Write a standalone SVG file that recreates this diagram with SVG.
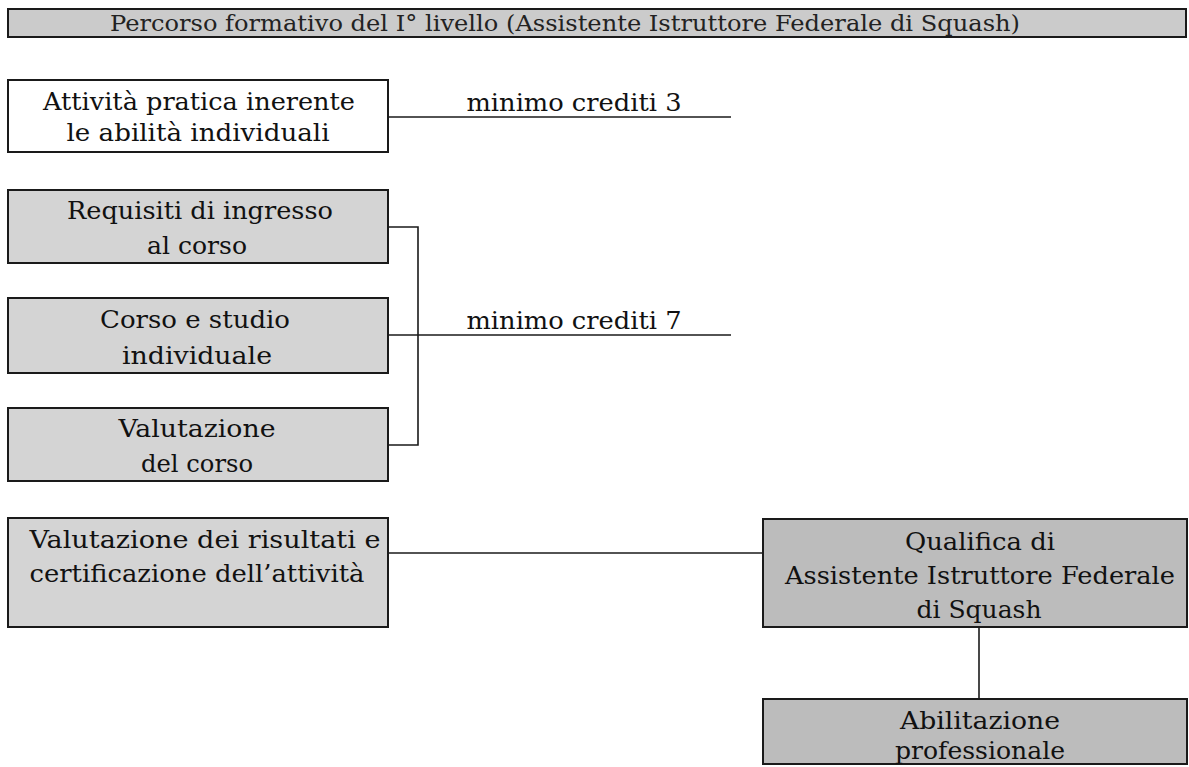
<svg xmlns="http://www.w3.org/2000/svg" width="1189" height="767" viewBox="0 0 1189 767">
<style>
.box{stroke:#1a1a1a;stroke-width:2}
.white{fill:#ffffff}
.light{fill:#d4d4d4}
.dark{fill:#bcbcbc}
.title{fill:#cbcbcb}
.t{font-family:"DejaVu Serif","Liberation Serif",serif;font-size:24px;fill:#111;text-anchor:middle}
.tt{font-family:"DejaVu Serif","Liberation Serif",serif;font-size:22px;fill:#222;text-anchor:middle}
.lbl{font-family:"DejaVu Serif","Liberation Serif",serif;font-size:24px;fill:#111;text-anchor:middle}
.conn{stroke:#1a1a1a;stroke-width:1.6;fill:none}
</style>
<rect width="1189" height="767" fill="#ffffff"/>
<g id="title">
<rect class="box title" x="8" y="9" width="1178" height="28"/>
<text class="tt" x="565" y="31" textLength="910" lengthAdjust="spacingAndGlyphs">Percorso formativo del I° livello (Assistente Istruttore Federale di Squash)</text>
</g>
<g id="connectors">
<line class="conn" x1="388" y1="117" x2="731" y2="117"/>
<polyline class="conn" points="388,227 418,227 418,445 388,445"/>
<line class="conn" x1="388" y1="335" x2="731" y2="335"/>
<line class="conn" x1="388" y1="553" x2="763" y2="553"/>
<line class="conn" x1="979" y1="622" x2="979" y2="699"/>
</g>
<g id="label-3">
<text class="lbl" x="574" y="111" textLength="215" lengthAdjust="spacingAndGlyphs">minimo crediti 3</text>
</g>
<g id="label-7">
<text class="lbl" x="574" y="329" textLength="215" lengthAdjust="spacingAndGlyphs">minimo crediti 7</text>
</g>
<g id="node-attivita">
<rect class="box white" x="8" y="80" width="380" height="72"/>
<text class="t" x="199" y="110" textLength="312" lengthAdjust="spacingAndGlyphs">Attività pratica inerente</text>
<text class="t" x="198" y="141" textLength="263" lengthAdjust="spacingAndGlyphs">le abilità individuali</text>
</g>
<g id="node-requisiti">
<rect class="box light" x="8" y="190" width="380" height="73"/>
<text class="t" x="200" y="219" textLength="266" lengthAdjust="spacingAndGlyphs">Requisiti di ingresso</text>
<text class="t" x="197" y="254" textLength="100" lengthAdjust="spacingAndGlyphs">al corso</text>
</g>
<g id="node-corso">
<rect class="box light" x="8" y="298" width="380" height="75"/>
<text class="t" x="195" y="328" textLength="190" lengthAdjust="spacingAndGlyphs">Corso e studio</text>
<text class="t" x="197" y="364" textLength="150" lengthAdjust="spacingAndGlyphs">individuale</text>
</g>
<g id="node-valutazione-corso">
<rect class="box light" x="8" y="408" width="380" height="73"/>
<text class="t" x="197" y="437" textLength="157" lengthAdjust="spacingAndGlyphs">Valutazione</text>
<text class="t" x="197" y="472" textLength="112" lengthAdjust="spacingAndGlyphs">del corso</text>
</g>
<g id="node-valutazione-risultati">
<rect class="box light" x="8" y="518" width="380" height="109"/>
<text class="t" x="205" y="548" textLength="351" lengthAdjust="spacingAndGlyphs">Valutazione dei risultati e</text>
<text class="t" x="197" y="582" textLength="335" lengthAdjust="spacingAndGlyphs">certificazione dell’attività</text>
</g>
<g id="node-qualifica">
<rect class="box dark" x="763" y="519" width="424" height="108"/>
<text class="t" x="980" y="550" textLength="150" lengthAdjust="spacingAndGlyphs">Qualifica di</text>
<text class="t" x="980" y="584" textLength="390" lengthAdjust="spacingAndGlyphs">Assistente Istruttore Federale</text>
<text class="t" x="979" y="618" textLength="125" lengthAdjust="spacingAndGlyphs">di Squash</text>
</g>
<g id="node-abilitazione">
<rect class="box dark" x="763" y="699" width="424" height="65"/>
<text class="t" x="980" y="729" textLength="160" lengthAdjust="spacingAndGlyphs">Abilitazione</text>
<text class="t" x="980" y="759" textLength="170" lengthAdjust="spacingAndGlyphs">professionale</text>
</g>
</svg>
